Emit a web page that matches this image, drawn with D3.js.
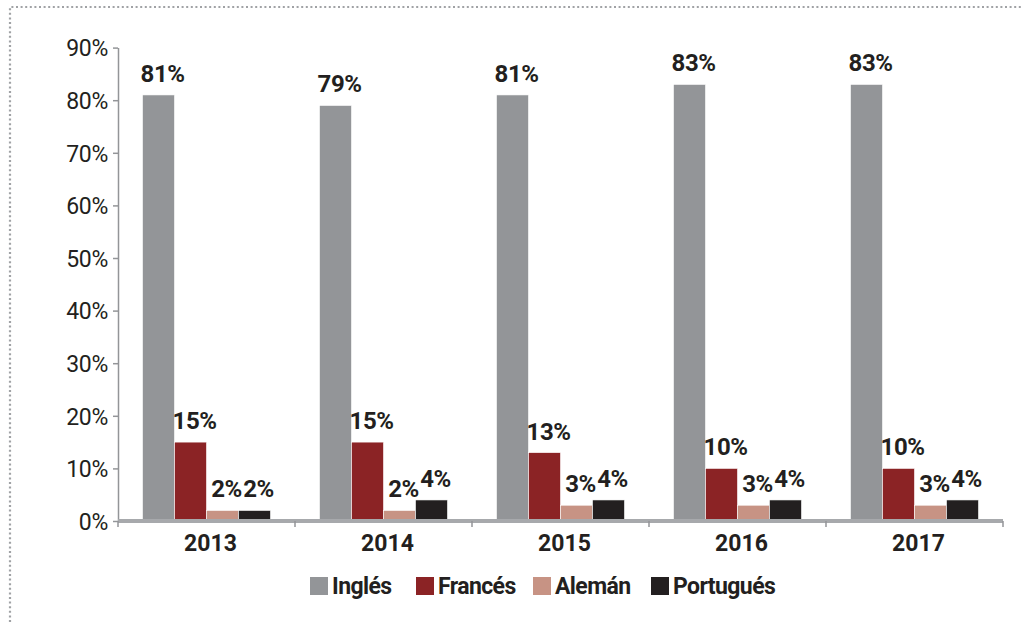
<!DOCTYPE html>
<html>
<head>
<meta charset="utf-8">
<script src="https://cdn.jsdelivr.net/npm/d3@7"></script>
<style>
  body { margin: 0; background: #fff; }
  svg { display: block; font-family: "Roboto", "Liberation Sans", sans-serif; }
</style>
</head>
<body>
<script>
const years = ['2013', '2014', '2015', '2016', '2017']
const languages = ['Inglés', 'Francés', 'Alemán', 'Portugués']
const ingles = [81, 79, 81, 83, 83]
const frances = [15, 15, 13, 10, 10]
const aleman = [2, 2, 3, 3, 3]
const portugues = [2, 4, 4, 4, 4]
const colors = ['#939598', '#8b2325', '#c79384', '#231f20']
const yTicks = [0, 10, 20, 30, 40, 50, 60, 70, 80, 90]

const [width, height] = [1026, 622]
const series = [ingles, frances, aleman, portugues]

const rows = years.map((y, i) => ({
    year: y,
    values: languages.map((l, j) => ({ lang: l, value: series[j][i] }))
}))

const svg = d3.select('body').append('svg')
    .attr('width', width)
    .attr('height', height)

// marco punteado (solo arriba e izquierda)
svg.append('path')
    .attr('d', `M10,${height} L10,7 L${width - 4},7`)
    .attr('fill', 'none')
    .attr('stroke', '#a0a2a5')
    .attr('stroke-width', 2.2)
    .attr('stroke-dasharray', '2 2.6')

const x0 = d3.scaleBand().domain(years).range([118, 1003]).padding(0)
const x1 = d3.scaleBand().domain(languages).range([24.5, 152.5]).padding(0)
const y = d3.scaleLinear().domain([0, 90]).range([521, 47.6])

// eje y
const yAxis = svg.append('g')
    .attr('transform', 'translate(118,0)')
    .call(d3.axisLeft(y).tickValues(yTicks).tickFormat(d => d + '%').tickSize(5).tickSizeOuter(0).tickPadding(5))
yAxis.select('.domain').attr('stroke', '#939598').attr('stroke-width', 1.5)
yAxis.selectAll('.tick line').attr('stroke', '#939598').attr('stroke-width', 1.5)
yAxis.selectAll('.tick text')
    .attr('font-size', 23)
    .attr('font-family', '"Roboto", "Liberation Sans", sans-serif')
    .attr('letter-spacing', -0.3)
    .attr('fill', '#231f20')
    .attr('dy', '0.36em')

// barras
const groups = svg.append('g').selectAll('g')
    .data(rows)
    .enter()
    .append('g')
        .attr('transform', d => `translate(${x0(d.year)},0)`)

groups.selectAll('rect')
    .data(d => d.values)
    .enter()
    .append('rect')
        .attr('x', d => x1(d.lang))
        .attr('y', d => y(d.value))
        .attr('width', x1.bandwidth())
        .attr('height', d => y(0) - y(d.value))
        .attr('fill', (d, i) => colors[i])
        .attr('stroke', '#fff')
        .attr('stroke-width', 0.6)

groups.selectAll('text')
    .data(d => d.values)
    .enter()
    .append('text')
        .text(d => d.value + '%')
        .attr('x', d => x1(d.lang) + x1.bandwidth() / 2 + 4)
        .attr('y', d => y(d.value) - 13)
        .attr('text-anchor', 'middle')
        .attr('font-size', 24)
        .attr('font-weight', 'bold')
        .attr('letter-spacing', -0.5)
        .attr('fill', '#231f20')

// eje x
svg.append('line')
    .attr('x1', 118).attr('x2', 1003)
    .attr('y1', 521).attr('y2', 521)
    .attr('stroke', '#a7a9ac')
    .attr('stroke-width', 4)

svg.append('g').selectAll('line')
    .data(years.map(d => x0(d)).concat([x0.range()[1]]))
    .enter()
    .append('line')
        .attr('x1', d => d).attr('x2', d => d)
        .attr('y1', 521).attr('y2', 527)
        .attr('stroke', '#939598')
        .attr('stroke-width', 1.5)

svg.append('g').selectAll('text')
    .data(years)
    .enter()
    .append('text')
        .text(d => d)
        .attr('x', d => x0(d) + x0.bandwidth() / 2 + 4)
        .attr('y', 551)
        .attr('text-anchor', 'middle')
        .attr('font-size', 23)
        .attr('font-weight', 'bold')
        .attr('fill', '#231f20')

// leyenda
const legendX = [310, 416, 533, 651]
const legend = svg.append('g').selectAll('g')
    .data(languages)
    .enter()
    .append('g')
        .attr('transform', (d, i) => `translate(${legendX[i]},577)`)

legend.append('rect')
    .attr('width', 18).attr('height', 18)
    .attr('fill', (d, i) => colors[i])

legend.append('text')
    .text(d => d)
    .attr('x', 22)
    .attr('y', 17)
    .attr('font-size', 23)
    .attr('font-weight', 'bold')
    .attr('letter-spacing', -0.6)
    .attr('fill', '#231f20')
</script>
</body>
</html>
